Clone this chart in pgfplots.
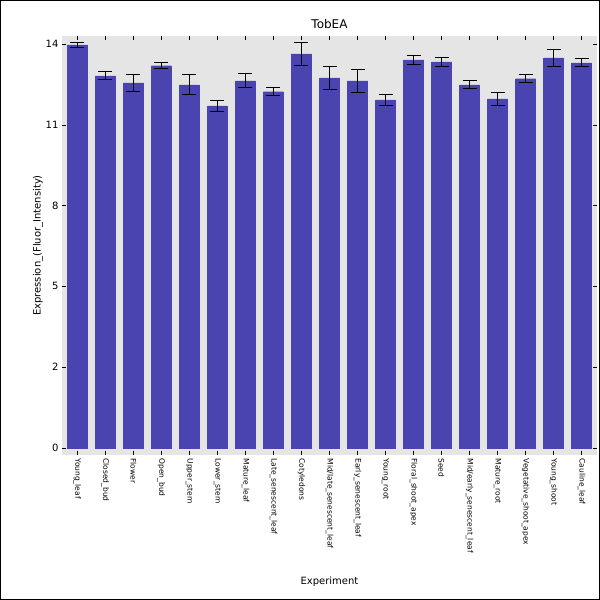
\documentclass[border=0pt]{standalone}
\usepackage{pgfplots}
\pgfplotsset{compat=1.18}
\usepackage{fontspec}
\setmainfont{DejaVu Sans}
\begin{document}
\begin{tikzpicture}
\useasboundingbox (0pt,0pt) rectangle (600pt,600pt);
\draw[black] (0.5pt,0.5pt) rectangle (599.5pt,599.5pt);
\begin{axis}[at={(62pt,145pt)},anchor=south west,scale only axis,width=535pt,height=419pt,
 xmin=-0.55,xmax=18.55,ymin=-0.24,ymax=14.27,
 axis background/.style={fill=black!10},axis line style={draw=none},
 ytick={0,2.8,5.6,8.4,11.2,14},yticklabels={0,2,5,8,11,14},
 tick style={black},major tick length=4pt,
 xtick={0,...,18},
 xticklabels={Young\_leaf,Closed\_bud,Flower,Open\_bud,Upper\_stem,Lower\_stem,Mature\_leaf,Late\_senescent\_leaf,Cotyledons,Mid/late\_senescent\_leaf,Early\_senescent\_leaf,Young\_root,Floral\_shoot\_apex,Seed,Mid/early\_senescent\_leaf,Mature\_root,Vegetative\_shoot\_apex,Young\_shoot,Cauline\_leaf},
 xticklabel style={rotate=-90,anchor=west,font=\fontsize{7.5}{8}\selectfont},
 yticklabel style={font=\fontsize{10}{12}\selectfont},
 /pgf/number format/assume math mode=true,
 title={TobEA},title style={font=\fontsize{12}{14}\selectfont,yshift=-2pt},
 xlabel={Experiment},ylabel={Expression\_(Fluor\_Intensity)},
 label style={font=\fontsize{10}{12}\selectfont},
 xlabel style={at={(0.5,0)},anchor=north,yshift=-118pt},
 ylabel style={yshift=-4pt},
]
\addplot[ybar,bar width=20pt,fill={rgb,255:red,74;green,68;blue,176},draw={rgb,255:red,74;green,68;blue,176},
 error bars/.cd,y dir=both,y explicit,error bar style={black,line width=1pt},error mark options={black,line width=1pt,mark size=7pt,rotate=90}]
coordinates {
(0,13.96) +- (0,0.1)
(1,12.89) +- (0,0.14)
(2,12.65) +- (0,0.3)
(3,13.24) +- (0,0.1)
(4,12.58) +- (0,0.35)
(5,11.85) +- (0,0.2)
(6,12.72) +- (0,0.24)
(7,12.34) +- (0,0.14)
(8,13.65) +- (0,0.4)
(9,12.82) +- (0,0.4)
(10,12.72) +- (0,0.4)
(11,12.06) +- (0,0.2)
(12,13.44) +- (0,0.14)
(13,13.37) +- (0,0.14)
(14,12.58) +- (0,0.14)
(15,12.09) +- (0,0.24)
(16,12.79) +- (0,0.14)
(17,13.51) +- (0,0.3)
(18,13.34) +- (0,0.14)
};
\end{axis}
\end{tikzpicture}
\end{document}
